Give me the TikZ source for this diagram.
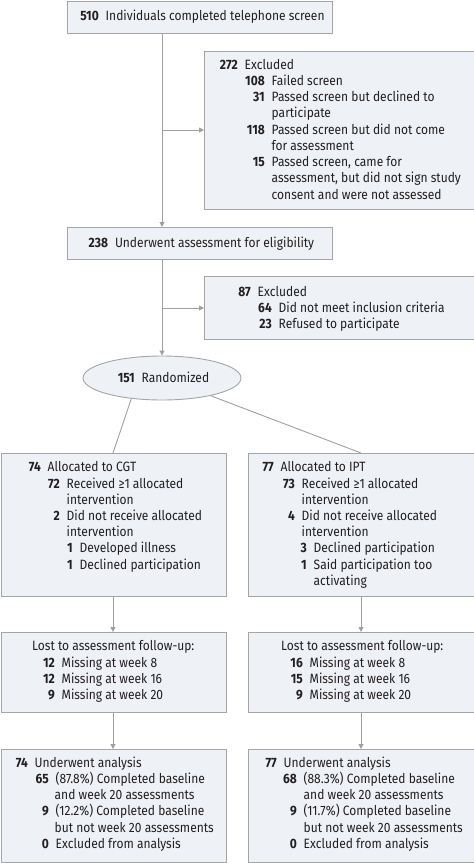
\documentclass[tikz,border=0pt]{standalone}
\usepackage{fontspec}
\setmainfont{Fira Sans}[FakeStretch=0.89]
\usetikzlibrary{arrows.meta,shapes.geometric}
\definecolor{boxfill}{RGB}{238,241,245}
\definecolor{boxline}{RGB}{165,165,165}
\definecolor{conn}{RGB}{160,160,160}
\definecolor{ink}{RGB}{35,31,32}
\tikzset{
  fbox/.style={draw=boxline, fill=boxfill, line width=0.9pt, rectangle, inner sep=0pt, anchor=north west},
  txt/.style={inner sep=0pt, text=ink, font=\fontsize{13.5}{16}\selectfont},
  conn/.style={draw=conn, line width=0.9pt},
  arr/.style={conn, -{Triangle[length=5pt,width=5pt]}},
}
\newcommand\flline[4]{%
  \node[txt,anchor=base east] at (#1,#2) {\bfseries #3};
  \node[txt,anchor=base west] at (#1+6.5,#2) {#4};}
\newcommand\flcont[3]{\node[txt,anchor=base west] at (#1,#2) {#3};}
\begin{document}
\begin{tikzpicture}[x=1pt,y=-1pt]
\useasboundingbox (0,0) rectangle (474,863);
% boxes
\node[fbox, minimum width=265pt, minimum height=32pt] (top) at (67,0.5) {};
\node[fbox, minimum width=269.5pt, minimum height=158pt] (exa) at (204,51) {};
\node[fbox, minimum width=265pt, minimum height=32pt] (elig) at (67,227) {};
\node[fbox, minimum width=269.5pt, minimum height=63pt] (exb) at (204,276) {};
\node[draw=boxline, fill=boxfill, line width=0.9pt, ellipse, minimum width=158pt, minimum height=44pt, inner sep=0pt] (rand) at (162,378) {};
\node[fbox, minimum width=225.5pt, minimum height=143pt] (alla) at (0.5,453) {};
\node[fbox, minimum width=225.5pt, minimum height=143pt] (allb) at (248,453) {};
\node[fbox, minimum width=225.5pt, minimum height=80pt] (losta) at (0.5,632) {};
\node[fbox, minimum width=225.5pt, minimum height=80pt] (lostb) at (248,632) {};
\node[fbox, minimum width=225.5pt, minimum height=113pt] (ana) at (0.5,749) {};
\node[fbox, minimum width=225.5pt, minimum height=113pt] (anb) at (248,749) {};
% connectors
\coordinate (ja) at (162,130);
\coordinate (jb) at (162,308);
\draw[arr] (top.south -| ja) -- (elig.north -| ja);
\draw[arr] (ja) -- (ja -| exa.west);
\draw[arr] (elig.south -| jb) -- (rand.north);
\draw[arr] (jb) -- (jb -| exb.west);
\coordinate (ca) at (113,453);
\coordinate (cb) at (361,453);
\draw[conn] (rand.214) -- (ca);
\draw[conn] (rand.340) -- (cb);
\draw[arr] (alla.south -| ca) -- (losta.north -| ca);
\draw[arr] (allb.south -| cb) -- (lostb.north -| cb);
\draw[arr] (losta.south -| ca) -- (ana.north -| ca);
\draw[arr] (lostb.south -| cb) -- (anb.north -| cb);
% texts
\flline{99}{20.7}{510}{Individuals completed telephone screen}
\flline{238}{69}{272}{Excluded}
\flline{265}{85.3}{108}{Failed screen}
\flline{265}{101.5}{31}{Passed screen but declined to}
\flcont{271.5}{117.7}{participate}
\flline{265}{134}{118}{Passed screen but did not come}
\flcont{271.5}{150.2}{for assessment}
\flline{265}{166.5}{15}{Passed screen, came for}
\flcont{271.5}{182.7}{assessment, but did not sign study}
\flcont{271.5}{199}{consent and were not assessed}
\flline{108.3}{247.7}{238}{Underwent assessment for eligibility}
\flline{251}{296}{87}{Excluded}
\flline{272}{312.3}{64}{Did not meet inclusion criteria}
\flline{272}{328.6}{23}{Refused to participate}
\flline{135}{382}{151}{Randomized}
% allocation CGT
\flline{41}{471.7}{74}{Allocated to CGT}
\flline{60}{488}{72}{Received ≥1 allocated}
\flcont{66.5}{504.2}{intervention}
\flline{60}{520.4}{2}{Did not receive allocated}
\flcont{66.5}{536.6}{intervention}
\flline{73}{552.8}{1}{Developed illness}
\flline{73}{569}{1}{Declined participation}
% allocation IPT
\flline{274}{471.7}{77}{Allocated to IPT}
\flline{295}{488}{73}{Received ≥1 allocated}
\flcont{301.5}{504.2}{intervention}
\flline{295}{520.4}{4}{Did not receive allocated}
\flcont{301.5}{536.6}{intervention}
\flline{307}{552.8}{3}{Declined participation}
\flline{307}{569}{1}{Said participation too}
\flcont{313.5}{585.2}{activating}
% lost
\flcont{32}{650.7}{Lost to assessment follow-up:}
\flline{55}{667}{12}{Missing at week 8}
\flline{55}{683.2}{12}{Missing at week 16}
\flline{55}{699.4}{9}{Missing at week 20}
\flcont{281}{650.7}{Lost to assessment follow-up:}
\flline{303}{667}{16}{Missing at week 8}
\flline{303}{683.2}{15}{Missing at week 16}
\flline{303}{699.4}{9}{Missing at week 20}
% analysis
\flline{28}{767.3}{74}{Underwent analysis}
\flline{49}{783.5}{65}{(87.8\%) Completed baseline}
\flcont{54.5}{799.7}{and week 20 assessments}
\flline{49}{815.9}{9}{(12.2\%) Completed baseline}
\flcont{54.5}{832.1}{but not week 20 assessments}
\flline{49}{848.3}{0}{Excluded from analysis}
\flline{277}{767.3}{77}{Underwent analysis}
\flline{297}{783.5}{68}{(88.3\%) Completed baseline}
\flcont{303.5}{799.7}{and week 20 assessments}
\flline{297}{815.9}{9}{(11.7\%) Completed baseline}
\flcont{303.5}{832.1}{but not week 20 assessments}
\flline{297}{848.3}{0}{Excluded from analysis}
\end{tikzpicture}
\end{document}
